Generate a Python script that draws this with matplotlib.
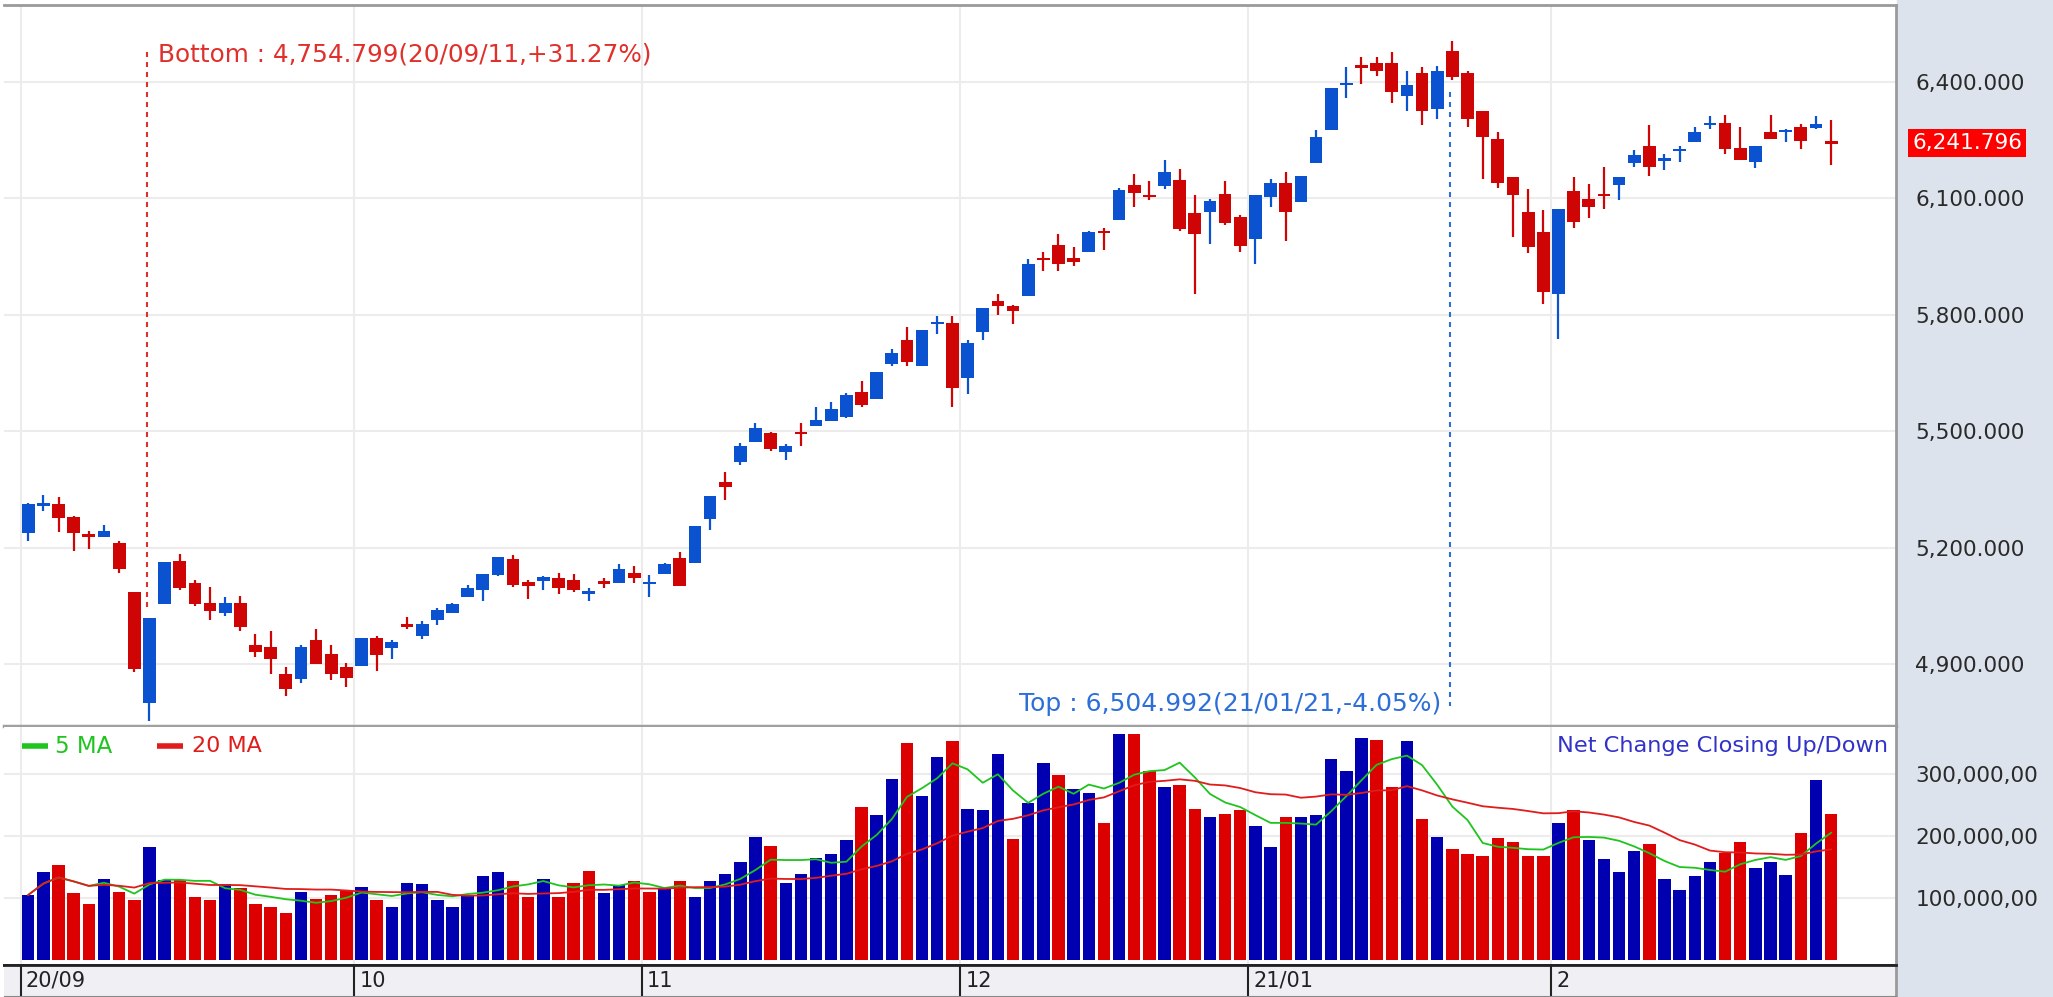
import matplotlib
matplotlib.use("Agg")
import matplotlib.pyplot as plt
import matplotlib.transforms as mtransforms
from matplotlib.patches import Rectangle
from matplotlib.ticker import FuncFormatter
import numpy as np
import pandas as pd

# daily candles 2020/09 .. 2021/02
opens = [5237, 5310, 5312, 5280, 5234, 5228, 5213, 5085, 4801, 5055,
         5167, 5108, 5058, 5033, 5058, 4949, 4945, 4876, 4863, 4962,
         4926, 4894, 4895, 4968, 4942, 5003, 4973, 5014, 5033, 5074,
         5091, 5130, 5172, 5112, 5114, 5121, 5117, 5082, 5113, 5110,
         5134, 5107, 5132, 5173, 5160, 5273, 5370, 5421, 5472, 5494,
         5446, 5497, 5514, 5527, 5536, 5602, 5582, 5672, 5734, 5668,
         5775, 5779, 5636, 5754, 5834, 5821, 5849, 5947, 5979, 5947,
         5960, 6015, 6044, 6134, 6108, 6131, 6147, 6061, 6063, 6111,
         6052, 5995, 6104, 6138, 6089, 6190, 6276, 6391, 6441, 6447,
         6447, 6363, 6423, 6330, 6479, 6422, 6325, 6252, 6153, 6065,
         6012, 5853, 6119, 6097, 6111, 6134, 6190, 6233, 6196, 6221,
         6244, 6287, 6293, 6228, 6194, 6269, 6270, 6282, 6280, 6244]
highs = [5314, 5336, 5330, 5281, 5244, 5258, 5217, 5086, 5018, 5163,
         5185, 5117, 5100, 5072, 5076, 4977, 4985, 4894, 4949, 4990,
         4949, 4904, 4968, 4973, 4962, 5022, 5012, 5046, 5058, 5104,
         5131, 5175, 5180, 5117, 5127, 5136, 5131, 5095, 5121, 5157,
         5153, 5130, 5161, 5190, 5257, 5334, 5394, 5470, 5520, 5498,
         5466, 5520, 5561, 5574, 5597, 5630, 5652, 5711, 5769, 5761,
         5797, 5797, 5735, 5816, 5852, 5825, 5943, 5961, 6007, 5975,
         6016, 6024, 6125, 6161, 6143, 6197, 6174, 6107, 6097, 6143,
         6057, 6107, 6149, 6166, 6156, 6274, 6383, 6437, 6464, 6464,
         6475, 6428, 6437, 6441, 6504.992, 6428, 6325, 6270, 6155, 6124,
         6070, 6071, 6155, 6137, 6179, 6153, 6224, 6287, 6214, 6233,
         6282, 6310, 6314, 6284, 6233, 6314, 6278, 6290, 6310, 6301]
lows = [5218, 5295, 5240, 5191, 5196, 5227, 5136, 4879, 4754.799, 5055,
        5091, 5050, 5014, 5024, 4986, 4919, 4874, 4819, 4852, 4900,
        4859, 4842, 4895, 4882, 4914, 4990, 4965, 5001, 5032, 5074,
        5064, 5127, 5100, 5069, 5091, 5082, 5087, 5064, 5095, 5109,
        5108, 5074, 5132, 5101, 5160, 5246, 5323, 5413, 5472, 5449,
        5426, 5463, 5513, 5527, 5535, 5563, 5582, 5668, 5668, 5668,
        5750, 5563, 5595, 5735, 5799, 5776, 5849, 5913, 5913, 5926,
        5960, 5967, 6044, 6076, 6094, 6123, 6014, 5853, 5981, 6031,
        5962, 5930, 6076, 5990, 6089, 6190, 6276, 6357, 6394, 6413,
        6344, 6323, 6288, 6303, 6403, 6284, 6149, 6125, 6000, 5958,
        5827, 5737, 6022, 6048, 6072, 6095, 6181, 6158, 6173, 6194,
        6244, 6277, 6213, 6198, 6177, 6252, 6244, 6227, 6277, 6185]
closes = [5312, 5313, 5277, 5237, 5229, 5244, 5145, 4887, 5018, 5162,
          5095, 5054, 5037, 5058, 4997, 4932, 4913, 4836, 4945, 4900,
          4874, 4864, 4968, 4924, 4958, 4997, 5003, 5039, 5054, 5095,
          5131, 5175, 5103, 5101, 5125, 5095, 5091, 5089, 5108, 5144,
          5123, 5112, 5158, 5101, 5257, 5334, 5355, 5463, 5507, 5453,
          5463, 5493, 5529, 5557, 5593, 5567, 5652, 5702, 5677, 5761,
          5782, 5610, 5726, 5816, 5822, 5810, 5930, 5941, 5931, 5936,
          6012, 6009, 6120, 6113, 6104, 6166, 6021, 6008, 6093, 6035,
          5977, 6107, 6138, 6063, 6156, 6256, 6383, 6397, 6436, 6426,
          6372, 6391, 6323, 6428, 6411, 6303, 6257, 6138, 6108, 5975,
          5858, 6071, 6038, 6076, 6106, 6153, 6210, 6181, 6203, 6226,
          6270, 6293, 6226, 6198, 6233, 6252, 6276, 6248, 6290, 6241.796]
# volume in millions
volume = [104.6, 141.3, 152.7, 107.3, 90.0, 130.0, 110.0, 95.9, 181.8, 128.9,
          128.9, 101.3, 95.9, 121.9, 115.4, 90.0, 84.6, 76.0, 110.0, 98.6,
          104.0, 111.6, 118.1, 95.9, 84.6, 124.6, 121.9, 95.9, 84.6, 103.0,
          135.9, 141.3, 126.7, 101.3, 130.0, 101.3, 124.6, 144.0, 107.3, 120.8,
          126.7, 110.0, 113.8, 126.7, 101.3, 127.3, 138.6, 158.6, 199.1, 184.5,
          124.6, 138.6, 165.1, 170.5, 193.2, 246.7, 233.2, 293.1, 350.4, 264.5,
          327.2, 353.1, 244.5, 241.8, 333.1, 195.9, 253.1, 318.5, 298.5, 275.8,
          270.4, 221.3, 364.4, 364.4, 304.5, 279.1, 281.8, 244.5, 230.4, 235.8,
          241.8, 216.4, 181.8, 230.4, 230.4, 233.2, 324.5, 304.5, 358.5, 355.8,
          279.1, 353.1, 227.2, 199.1, 179.1, 170.5, 167.8, 196.4, 190.5, 167.8,
          167.8, 221.8, 241.8, 193.2, 162.4, 141.9, 176.4, 187.2, 130.0, 113.2,
          135.9, 158.6, 173.2, 190.5, 147.8, 158.6, 136.4, 204.5, 291.0, 235.8]

month_labels = ["20/09", "10", "11", "12", "21/01", "2"]
month_start = [0, 22, 41, 62, 81, 101]
price_ticks = [4900, 5200, 5500, 5800, 6100, 6400]
vol_ticks = [100, 200, 300]
vol_tick_labels = ["100,000,00", "200,000,00", "300,000,00"]
bottom_text = "Bottom : 4,754.799(20/09/11,+31.27%)"
top_text = "Top : 6,504.992(21/01/21,-4.05%)"
last_price = 6241.796

UP, DOWN = "#0a52cf", "#cf0404"
VUP, VDOWN = "#0000b0", "#dc0000"
GRID = "#ececec"

W, H = 2053, 997


def box(x0, y0, x1, y1):
    return [x0 / W, 1 - y1 / H, (x1 - x0) / W, (y1 - y0) / H]


fig = plt.figure(figsize=(W / 100, H / 100), dpi=100)
fig.patches.append(Rectangle((1897 / W, 0), 1 - 1897 / W, 1, transform=fig.transFigure,
                             color="#dce3ec", zorder=-5))

ax_p = fig.add_axes(box(4, 5, 1896, 726))
ax_v = fig.add_axes(box(4, 727, 1896, 965))
ax_d = fig.add_axes(box(4, 965, 1896, 996))

o = np.array(opens, float)
h = np.array(highs, float)
l = np.array(lows, float)
c = np.array(closes, float)
x = np.arange(len(c))
xlim = (-1.6, 123.28)

# ---- price panel
colors = [UP if cc >= oo else DOWN for oo, cc in zip(o, c)]
body = np.abs(c - o)
bot = np.minimum(o, c)
thin = body < 6
bot = np.where(thin, (o + c) / 2 - 3, bot)
body = np.where(thin, 6, body)

ax_p.vlines(x, l, h, color=colors, lw=1.6, zorder=2)
ax_p.bar(x, body, bottom=bot, width=0.84, color=colors, zorder=3)

ax_p.set_xlim(*xlim)
ax_p.set_ylim(4741, 6597)
ax_p.set_xticks([])
ax_p.set_yticks(price_ticks)
ax_p.yaxis.tick_right()
ax_p.yaxis.set_major_formatter(FuncFormatter(lambda v, _: f"{v:,.3f}"))
ax_p.tick_params(axis="y", length=0, pad=14, labelsize=15.6, labelcolor="#2a2a2a")
ax_p.grid(axis="y", color=GRID, lw=1.5, zorder=0)
for m in month_start:
    ax_p.axvline(m - 0.5, color=GRID, lw=1.5, zorder=0)
ax_p.spines["left"].set_visible(False)
ax_p.spines["top"].set_color("#9a9a9a")
ax_p.spines["top"].set_linewidth(2)
ax_p.spines["right"].set_color("#9a9a9a")
ax_p.spines["right"].set_linewidth(2)
ax_p.spines["bottom"].set_color("#a0a0a0")
ax_p.spines["bottom"].set_linewidth(2.5)

y0, y1 = ax_p.get_ylim()
ib = int(np.argmin(l))
it = int(np.argmax(h))
ax_p.plot([ib - 0.15, ib - 0.15], [h[ib] + 30, y0 + 0.937 * (y1 - y0)], color="#e0302c",
          lw=1.5, ls=(0, (2.4, 2.4)), zorder=4)
ax_p.text(ib + 0.56, y0 + 0.931 * (y1 - y0), bottom_text, color="#e0302c", fontsize=17.8,
          ha="left", va="center")
ax_p.plot([it - 0.15, it - 0.15], [l[it] - 30, y0 + 0.028 * (y1 - y0)], color="#2d6fd8",
          lw=1.5, ls=(0, (2.4, 2.4)), zorder=4)
ax_p.text(it - 0.75, y0 + 0.031 * (y1 - y0), top_text, color="#2d6fd8", fontsize=18,
          ha="right", va="center")

tr = mtransforms.blended_transform_factory(ax_p.transAxes, ax_p.transData)
ax_p.text(1.0085, last_price, f"{last_price:,.3f}", transform=tr, color="white", fontsize=15.6,
          ha="left", va="center",
          bbox=dict(boxstyle="square,pad=0.2", fc="#ff0000", ec="none"))

# ---- volume panel
prev = np.concatenate([[o[0]], c[:-1]])
vcolors = [VUP if cc >= pp else VDOWN for cc, pp in zip(c, prev)]
vol = pd.Series(volume)
ax_v.bar(x, volume, width=0.82, color=vcolors, zorder=2)
ax_v.plot(x, vol.rolling(5, min_periods=1).mean(), color="#1fc41f", lw=1.3, zorder=3)
ax_v.plot(x, vol.rolling(20, min_periods=1).mean(), color="#e01c1c", lw=1.3, zorder=3)

ax_v.set_xlim(*xlim)
ax_v.set_ylim(-8.9, 376.5)
ax_v.set_xticks([])
ax_v.set_yticks(vol_ticks)
ax_v.set_yticklabels(vol_tick_labels)
ax_v.yaxis.tick_right()
ax_v.tick_params(axis="y", length=0, pad=14, labelsize=15.6, labelcolor="#2a2a2a")
ax_v.grid(axis="y", color=GRID, lw=1.5, zorder=0)
for m in month_start:
    ax_v.axvline(m - 0.5, color=GRID, lw=1.5, zorder=0)
ax_v.spines["left"].set_visible(False)
ax_v.spines["top"].set_visible(False)
ax_v.spines["right"].set_color("#9a9a9a")
ax_v.spines["right"].set_linewidth(2)
ax_v.spines["bottom"].set_color("#222222")
ax_v.spines["bottom"].set_linewidth(2)

ax_v.plot([0.0095, 0.0233], [0.92, 0.92], transform=ax_v.transAxes, color="#1fc41f", lw=4,
          solid_capstyle="butt")
ax_v.text(0.027, 0.92, "5 MA", transform=ax_v.transAxes, color="#1fc41f", fontsize=16.5,
          va="center")
ax_v.plot([0.081, 0.0946], [0.92, 0.92], transform=ax_v.transAxes, color="#e01c1c", lw=4,
          solid_capstyle="butt")
ax_v.text(0.0994, 0.92, "20 MA", transform=ax_v.transAxes, color="#e01c1c", fontsize=16,
          va="center")
ax_v.text(0.9958, 0.92, "Net Change Closing Up/Down", transform=ax_v.transAxes,
          color="#3232c8", fontsize=16.2, ha="right", va="center")

# ---- date strip
ax_d.set_facecolor("#f0f0f4")
ax_d.set_xlim(*xlim)
ax_d.set_ylim(0, 1)
ax_d.set_xticks([])
ax_d.set_yticks([])
for m, lab in zip(month_start, month_labels):
    ax_d.axvline(m - 0.5, color="#222222", lw=1.5)
    ax_d.text(m - 0.15, 0.5, lab, color="#222222", fontsize=15, ha="left", va="center")
ax_d.spines["left"].set_visible(False)
ax_d.spines["top"].set_color("#222222")
ax_d.spines["top"].set_linewidth(2)
ax_d.spines["bottom"].set_color("#888888")
ax_d.spines["right"].set_color("#9a9a9a")
ax_d.spines["right"].set_linewidth(2)

fig.savefig("out.png", dpi=100)
